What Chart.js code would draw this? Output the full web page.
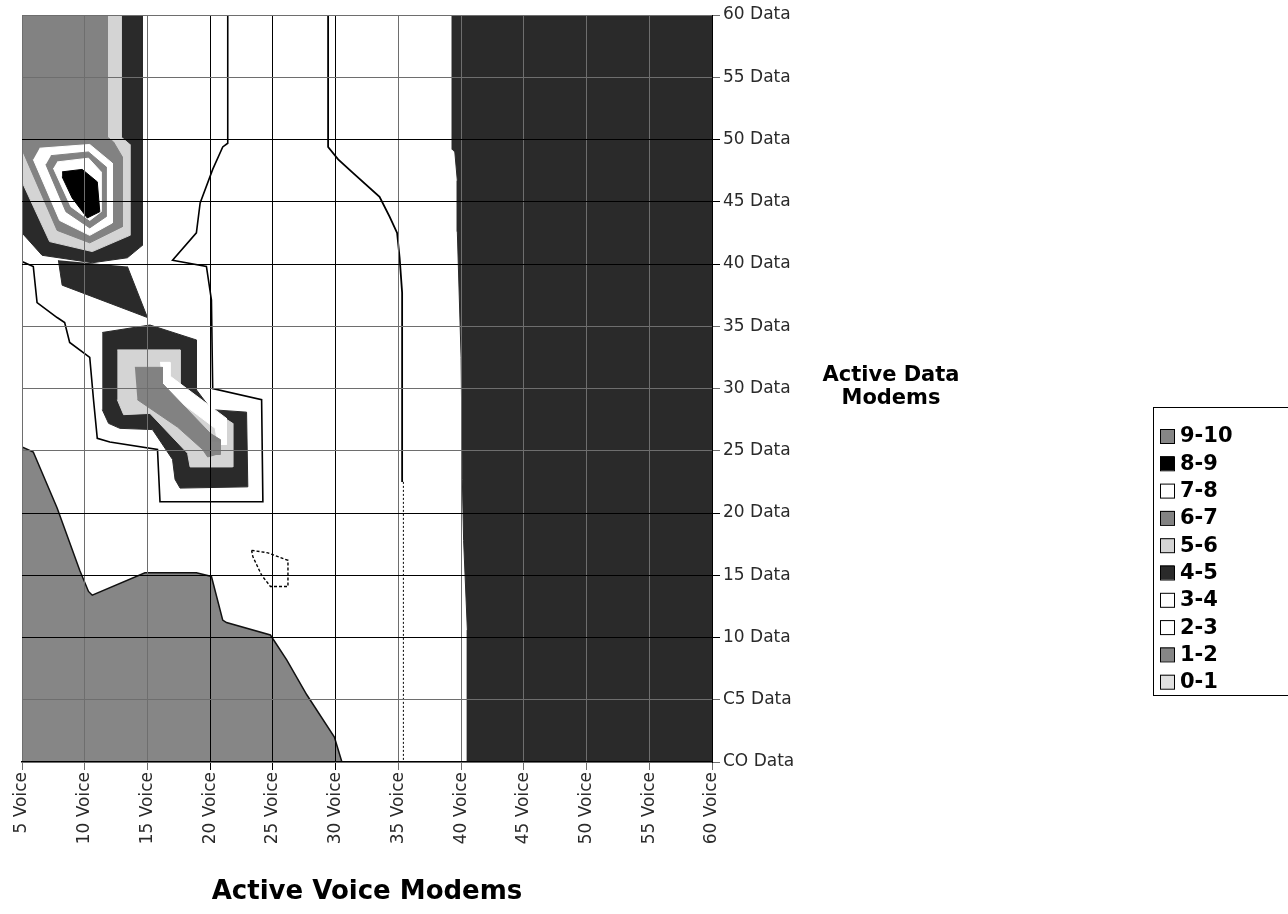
<!DOCTYPE html>
<html>
<head>
<meta charset="utf-8">
<script src="https://cdn.jsdelivr.net/npm/chart.js@4.4.1/dist/chart.umd.min.js"></script>
<style>
  html, body { margin: 0; padding: 0; background: #fff; }
  #wrap { width: 1288px; height: 914px; }
</style>
</head>
<body>
<div id="wrap"><canvas id="contour" width="1288" height="914"></canvas></div>
<script>
// axis ticks
const voiceTicks = [5, 10, 15, 20, 25, 30, 35, 40, 45, 50, 55, 60];
const voiceTickLabels = ["5 Voice", "10 Voice", "15 Voice", "20 Voice", "25 Voice", "30 Voice",
  "35 Voice", "40 Voice", "45 Voice", "50 Voice", "55 Voice", "60 Voice"];
const dataTickLabels = ["CO Data", "C5 Data", "10 Data", "15 Data", "20 Data", "25 Data", "30 Data",
  "35 Data", "40 Data", "45 Data", "50 Data", "55 Data", "60 Data"];

// contour bands, same order as the legend
const levelLabels = ["9-10", "8-9", "7-8", "6-7", "5-6", "4-5", "3-4", "2-3", "1-2", "0-1"];
const levelColors = ["#858585", "#000000", "#ffffff", "#828282", "#d4d4d4",
  "#2a2a2a", "#ffffff", "#ffffff", "#868686", "#e0e0e0"];

// filled contour shapes, [voice, data] corners
const rightPlateau = [[39.3, 60], [39.3, 49.2], [39.5, 49.0], [39.7, 46.7], [39.7, 42.6], [40.0, 32.5],
  [40.1, 22.7], [40.2, 17.8], [40.5, 10.6], [40.5, 0], [60, 0], [60, 60]];
const lowCorner = [[5, 25.3], [5.9, 24.9], [7.8, 20.4], [9.6, 15.4], [10.3, 13.7], [10.6, 13.4],
  [14.8, 15.2], [18.9, 15.2], [20.1, 14.9], [21.0, 11.4], [21.3, 11.2], [24.8, 10.2], [26.1, 8.2],
  [27.7, 5.4], [29.9, 2.0], [30.5, 0], [5, 0]];
const peakAOuter = [[12.9, 60], [14.6, 60], [14.6, 41.5], [13.4, 40.5], [10.6, 40.1], [6.6, 40.7],
  [5, 42.5], [5, 50.2], [12.9, 50.2]];
const peakATail = [[7.9, 40.3], [8.2, 38.3], [15.0, 35.7], [13.4, 39.8]];
const peakALight = [[11.8, 60], [12.9, 60], [12.9, 50.2], [13.6, 49.6], [13.6, 42.3], [10.6, 41.0],
  [7.2, 41.8], [5, 46.6], [5, 50.2], [11.8, 50.2]];
const peakAMid = [[5, 60], [11.8, 60], [11.8, 50.2], [12.3, 49.8], [13.0, 48.6], [13.0, 43.0],
  [10.4, 41.7], [7.8, 42.7], [5, 49.2]];
const peakAWhite = [[6.4, 49.3], [10.4, 49.6], [12.2, 48.1], [12.2, 43.3], [10.4, 42.3], [8.0, 43.5],
  [5.9, 48.4]];
const peakARing = [[7.3, 48.7], [10.3, 49.0], [11.7, 47.8], [11.7, 43.8], [10.4, 42.9], [8.5, 44.2],
  [6.9, 48.0]];
const peakAInner = [[7.8, 48.2], [10.3, 48.5], [11.3, 47.4], [11.3, 44.2], [10.4, 43.5], [8.9, 44.6],
  [7.5, 47.7]];
const peakACore = [[8.2, 47.4], [9.8, 47.6], [11.0, 46.6], [11.2, 44.2], [10.2, 43.7], [9.0, 45.3],
  [8.2, 47.0]];
const peakBOuter = [[11.4, 34.5], [15.2, 35.1], [18.9, 33.9], [18.9, 29.9], [20.1, 28.3], [22.9, 28.1],
  [23.0, 22.1], [17.6, 22.0], [17.2, 22.7], [17.0, 24.3], [15.4, 26.7], [12.8, 26.8], [11.9, 27.2],
  [11.4, 28.3]];
const peakBLight = [[12.6, 33.1], [17.6, 33.1], [17.6, 30.1], [18.8, 29.1], [21.8, 27.2], [21.8, 23.7],
  [18.4, 23.7], [18.2, 24.8], [15.2, 28.0], [13.1, 27.9], [12.6, 29.1]];
const peakBWhite = [[16.0, 32.1], [16.8, 32.1], [16.8, 31.0], [21.3, 27.6], [21.3, 25.5], [20.6, 25.5],
  [20.4, 26.8], [16.2, 30.0]];
const peakBRidge = [[14.0, 31.7], [16.2, 31.7], [16.2, 30.4], [20.0, 26.4], [20.8, 25.9], [20.8, 24.8],
  [19.8, 24.5], [19.4, 25.1], [17.4, 26.9], [14.2, 29.1]];
const peakBTop = [[20.1, 25.7], [20.8, 25.7], [20.8, 24.7], [20.1, 24.7]];

// thin contour lines
const lineA = [[21.4, 60], [21.4, 49.7], [21.0, 49.4], [20.2, 47.6], [19.2, 44.9], [18.9, 42.5],
  [17.0, 40.3], [19.7, 39.8], [20.1, 37.1], [20.2, 30.0], [24.1, 29.1], [24.2, 20.9], [16.0, 20.9],
  [15.8, 25.1], [12.0, 25.7], [11.0, 26.0], [10.7, 29.1], [10.4, 32.5], [8.8, 33.7], [8.4, 35.3],
  [7.8, 35.7], [6.2, 36.9], [5.9, 39.8], [5, 40.2]];
const lineB = [[29.4, 60], [29.4, 49.4], [30.2, 48.4], [31.4, 47.3], [33.5, 45.4], [34.3, 43.8],
  [34.9, 42.5], [35.1, 40.5], [35.3, 37.7], [35.3, 22.5]];
const lineBLow = [[35.4, 22.5], [35.4, 0]];
const loopC = [[23.3, 17.0], [24.6, 16.8], [26.2, 16.2], [26.2, 14.1], [24.8, 14.1], [24.1, 15.0],
  [23.4, 16.5], [23.3, 17.0]];

// bottom layer first
const layers = [
  [rightPlateau, 5], [lowCorner, 8],
  [peakAOuter, 5], [peakATail, 5], [peakALight, 4], [peakAMid, 3], [peakAWhite, 2],
  [peakARing, 3], [peakAInner, 2], [peakACore, 1],
  [peakBOuter, 5], [peakBLight, 4], [peakBWhite, 2], [peakBRidge, 3], [peakBTop, 0]
];
const contourLines = [[lineA, 1.6, []], [lineB, 1.8, []], [lineBLow, 1, [2, 2]], [loopC, 1.4, [3, 2]]];

const toPts = (arr) => arr.map(([x, y]) => ({ x: x, y: y }));

const datasets = [];
layers.forEach(([poly, lvl], i) => {
  datasets.push({
    label: levelLabels[lvl],
    data: toPts(poly),
    fill: "shape",
    backgroundColor: levelColors[lvl],
    borderColor: levelColors[lvl],
    borderWidth: poly === lowCorner ? 0 : 1,
    pointRadius: 0,
    order: 100 - i,
  });
});
// edge of the 1-2 area
datasets.push({
  data: toPts(lowCorner.slice(0, 16)),
  fill: false,
  borderColor: "#111",
  borderWidth: 1.5,
  pointRadius: 0,
  order: 50,
});
contourLines.forEach(([pts, w, dash], i) => {
  datasets.push({
    data: toPts(pts),
    fill: false,
    borderColor: "#000",
    borderWidth: w,
    borderDash: dash,
    pointRadius: 0,
    order: 10 - i,
  });
});

//strong and faint grid lines like the print
const strongVoice = [20, 25, 30];
const strongData = [10, 15, 20, 40, 45, 50];

//titles and legend box are drawn after the chart
const extrasPlugin = {
  id: "extras",
  afterDraw(chart) {
    const ctx = chart.ctx;
    const area = chart.chartArea;
    ctx.save();
    ctx.fillStyle = "#000";
    ctx.textBaseline = "middle";
    ctx.textAlign = "center";
    ctx.font = "bold 26px 'DejaVu Sans'";
    ctx.fillText("Active Voice Modems", (area.left + area.right) / 2, 892);
    ctx.font = "bold 21px 'DejaVu Sans'";
    ctx.fillText("Active Data", 891, 376);
    ctx.fillText("Modems", 891, 399);

    //legend
    ctx.strokeStyle = "#000";
    ctx.lineWidth = 1;
    ctx.strokeRect(1153.5, 407.5, 150, 288);
    ctx.textAlign = "left";
    ctx.font = "bold 21px 'DejaVu Sans'";
    levelLabels.forEach((lab, i) => {
      const y = 436 + i * 27.3;
      ctx.fillStyle = levelColors[i];
      ctx.fillRect(1160, y - 7, 14, 14);
      ctx.strokeRect(1160.5, y - 6.5, 14, 14);
      ctx.fillStyle = "#000";
      ctx.fillText(lab, 1180, y + 1);
    });
    ctx.restore();
  },
};

let myChart = new Chart(document.getElementById("contour"), {
  type: "line",
  data: { datasets: datasets },
  plugins: [extrasPlugin],
  options: {
    responsive: false,
    devicePixelRatio: 1,
    animation: false,
    layout: { padding: { left: 22, top: 15, right: 0, bottom: 0 } },
    plugins: {
      legend: { display: false },
      tooltip: { enabled: false },
    },
    scales: {
      x: {
        type: "linear",
        position: "bottom",
        min: 5,
        max: 60,
        afterFit: (s) => { s.height = 152; },
        afterBuildTicks: (s) => { s.ticks = voiceTicks.map((v) => ({ value: v })); },
        ticks: {
          autoSkip: false,
          maxRotation: 90,
          minRotation: 90,
          padding: 2,
          color: "#2a2a2a",
          font: { family: "DejaVu Sans", size: 17 },
          callback: (v) => voiceTickLabels[voiceTicks.indexOf(v)],
        },
        grid: {
          z: 1,
          color: (c) => (c.tick && strongVoice.includes(c.tick.value) ? "#000" : "#6e6e6e"),
          lineWidth: 1,
          tickLength: 8,
        },
        border: { color: "#000", width: 1.5, z: 1 },
      },
      y: {
        type: "linear",
        position: "right",
        min: 0,
        max: 60,
        afterFit: (s) => { s.width = 576; },
        ticks: {
          stepSize: 5,
          padding: 3,
          color: "#2a2a2a",
          font: { family: "DejaVu Sans", size: 17 },
          callback: (v) => dataTickLabels[Math.round(v / 5)],
        },
        grid: {
          z: 1,
          color: (c) => (c.tick && strongData.includes(c.tick.value) ? "#000" : "#6e6e6e"),
          lineWidth: 1,
          tickLength: 8,
        },
        border: { color: "#000", width: 1, z: 1 },
      },
    },
  },
});
</script>
</body>
</html>
